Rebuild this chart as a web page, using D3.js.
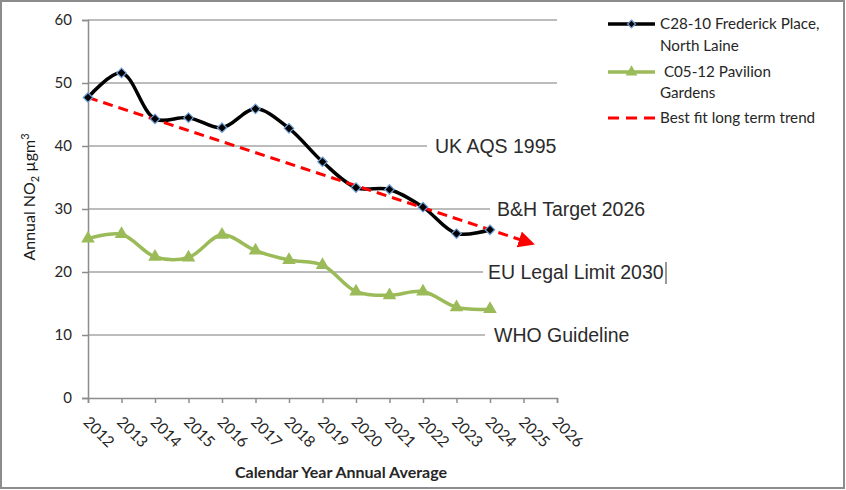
<!DOCTYPE html>
<html>
<head>
<meta charset="utf-8">
<script src="https://cdn.jsdelivr.net/npm/d3@7"></script>
<style>
  html, body { margin: 0; padding: 0; background: #fff; }
  svg { display: block; font-family: Lato, "Noto Sans", sans-serif; }
</style>
</head>
<body>
<div id="chart"></div>
<script>
// Data
const years = [2012, 2013, 2014, 2015, 2016, 2017, 2018, 2019, 2020, 2021, 2022, 2023, 2024];
const fredericksPlace = [47.7, 51.6, 44.3, 44.5, 42.9, 45.9, 42.8, 37.5, 33.4, 33.1, 30.3, 26.1, 26.7];
const pavilionGardens = [25.3, 26.0, 22.4, 22.3, 25.9, 23.4, 21.9, 21.1, 16.9, 16.3, 16.9, 14.4, 14.1];
const trendYears = [2012, 2025.2];
const trendValues = [47.7, 24.6];
const axisYears = d3.range(2012, 2027);
const yTicks = [0, 10, 20, 30, 40, 50, 60];
const refValues = [40, 30, 20, 10];
const refLabels = ["UK AQS 1995", "B&H Target 2026", "EU Legal Limit 2030", "WHO Guideline"];

const width = 846;
const height = 490;
const margin = { top: 20, right: 289, bottom: 92, left: 88 };

const svg = d3.select("#chart")
  .append("svg")
    .attr("width", width)
    .attr("height", height);

// Outer frame
svg.append("rect")
    .attr("x", 1)
    .attr("y", 1)
    .attr("width", 843)
    .attr("height", 487)
    .attr("fill", "white")
    .attr("stroke", "#8c8c8c")
    .attr("stroke-width", 2);

// Scales
const x = d3.scaleLinear()
  .domain([2012, 2026])
  .range([margin.left, width - margin.right]);
const y = d3.scaleLinear()
  .domain([0, 60])
  .range([height - margin.bottom, margin.top]);

// Gridlines (reference ones are cut short by their text boxes)
const refLabelX = [435, 497, 488, 494];
const refGap = [8, 7, 5, 9];
svg.append("g")
    .attr("stroke", "#a6a6a6")
    .attr("stroke-width", 1.3)
  .selectAll("line")
  .data(yTicks.filter(d => d > 0))
  .join("line")
    .attr("x1", x(2012))
    .attr("x2", d => {
      const i = refValues.indexOf(d);
      return i < 0 ? x(2026) : refLabelX[i] - refGap[i];
    })
    .attr("y1", d => y(d))
    .attr("y2", d => y(d));

// Axes
const yAxis = svg.append("g")
    .attr("transform", `translate(${x(2012)},0)`)
    .call(d3.axisLeft(y).tickValues(yTicks).tickSize(6).tickPadding(10));
const xAxis = svg.append("g")
    .attr("transform", `translate(0,${y(0)})`)
    .call(d3.axisBottom(x).tickValues(axisYears).tickFormat(d3.format("d")).tickSize(5));
[yAxis, xAxis].forEach(g => {
  g.select(".domain").attr("stroke", "#8c8c8c").attr("stroke-width", 1.5);
  g.selectAll(".tick line").attr("stroke", "#8c8c8c").attr("stroke-width", 1.5);
  g.selectAll("text")
    .attr("fill", "#262626")
    .style("font-family", "Lato, sans-serif")
    .style("font-size", "15px");
});
xAxis.selectAll("text")
    .attr("y", 0)
    .attr("dy", 0)
    .attr("text-anchor", "start")
    .style("font-size", "15.5px")
    .attr("transform", "translate(-6,25) rotate(45)");

// Axis titles
svg.append("text")
    .attr("x", 341)
    .attr("y", 478)
    .attr("text-anchor", "middle")
    .attr("font-weight", "bold")
    .attr("font-size", "16px")
    .attr("fill", "#262626")
    .text("Calendar Year Annual Average");

const yTitle = svg.append("text")
    .attr("transform", "translate(35,197) rotate(-90)")
    .attr("text-anchor", "middle")
    .attr("font-size", "16px")
    .attr("fill", "#1a1a1a");
yTitle.append("tspan").text("Annual NO");
yTitle.append("tspan").attr("font-size", "11px").attr("dy", 4).text("2");
yTitle.append("tspan").attr("dy", -4).text(" µgm");
yTitle.append("tspan").attr("font-size", "11px").attr("dy", -6).text("3");

// Reference line labels
svg.append("g")
    .attr("font-family", "'Liberation Sans', Arial, sans-serif")
    .attr("font-size", "19.5px")
    .attr("fill", "#2b2b2b")
  .selectAll("text")
  .data(refValues)
  .join("text")
    .attr("x", (d, i) => refLabelX[i])
    .attr("y", d => y(d) + 7)
    .text((d, i) => refLabels[i]);

// Text cursor left after the EU label
svg.append("line")
    .attr("x1", 666)
    .attr("x2", 666)
    .attr("y1", y(20) - 10)
    .attr("y2", y(20) + 12)
    .attr("stroke", "#333")
    .attr("stroke-width", 1);

// Lines
const line = d3.line()
  .x(d => x(d[0]))
  .y(d => y(d[1]))
  .curve(d3.curveCatmullRom);

const greenPts = years.map((d, i) => [d, pavilionGardens[i]]);
const blackPts = years.map((d, i) => [d, fredericksPlace[i]]);
const trendPts = trendYears.map((d, i) => [d, trendValues[i]]);

svg.append("path")
    .datum(greenPts)
    .attr("d", line)
    .attr("fill", "none")
    .attr("stroke", "#9bbb59")
    .attr("stroke-width", 3.5);
svg.append("g")
  .selectAll("path")
  .data(greenPts)
  .join("path")
    .attr("transform", d => `translate(${x(d[0])},${y(d[1])})`)
    .attr("d", d3.symbol(d3.symbolTriangle, 80))
    .attr("fill", "#9bbb59");

svg.append("path")
    .datum(blackPts)
    .attr("d", line)
    .attr("fill", "none")
    .attr("stroke", "black")
    .attr("stroke-width", 3.5);

// Trend with arrow head
svg.append("defs")
  .append("marker")
    .attr("id", "arrow")
    .attr("viewBox", "0 0 10 10")
    .attr("refX", 7)
    .attr("refY", 5)
    .attr("markerWidth", 5.5)
    .attr("markerHeight", 5.5)
    .attr("orient", "auto")
  .append("path")
    .attr("d", "M0,0L10,5L0,10Z")
    .attr("fill", "#ff0000");
svg.append("path")
    .datum(trendPts)
    .attr("d", d3.line().x(d => x(d[0])).y(d => y(d[1])))
    .attr("fill", "none")
    .attr("stroke", "#ff0000")
    .attr("stroke-width", 3)
    .attr("stroke-dasharray", "10 6")
    .attr("marker-end", "url(#arrow)");

svg.append("g")
  .selectAll("path")
  .data(blackPts)
  .join("path")
    .attr("transform", d => `translate(${x(d[0])},${y(d[1])})`)
    .attr("d", d3.symbol(d3.symbolDiamond2, 58))
    .attr("fill", "black")
    .attr("stroke", "#6f9fd8")
    .attr("stroke-width", 1.2);

// Legend
const legend = svg.append("g")
    .attr("font-size", "15.2px")
    .attr("fill", "#262626");
const lx1 = 608, lx2 = 655, ltx = 660;

legend.append("line")
    .attr("x1", lx1).attr("x2", lx2).attr("y1", 24).attr("y2", 24)
    .attr("stroke", "black").attr("stroke-width", 3.5);
legend.append("path")
    .attr("transform", `translate(${(lx1 + lx2) / 2},24)`)
    .attr("d", d3.symbol(d3.symbolDiamond2, 40))
    .attr("fill", "black").attr("stroke", "#6f9fd8").attr("stroke-width", 1.2);
legend.append("text").attr("x", ltx).attr("y", 29).text("C28-10 Frederick Place,");
legend.append("text").attr("x", ltx).attr("y", 51).text("North Laine");

legend.append("line")
    .attr("x1", lx1).attr("x2", lx2).attr("y1", 72).attr("y2", 72)
    .attr("stroke", "#9bbb59").attr("stroke-width", 3.5);
legend.append("path")
    .attr("transform", `translate(${(lx1 + lx2) / 2},72)`)
    .attr("d", d3.symbol(d3.symbolTriangle, 60))
    .attr("fill", "#9bbb59");
legend.append("text").attr("x", ltx).attr("y", 77).text("\u00a0C05-12 Pavilion");
legend.append("text").attr("x", ltx).attr("y", 98).text("Gardens");

legend.append("line")
    .attr("x1", lx1).attr("x2", lx2).attr("y1", 118).attr("y2", 118)
    .attr("stroke", "#ff0000").attr("stroke-width", 3)
    .attr("stroke-dasharray", "11 7");
legend.append("text").attr("x", ltx).attr("y", 123).text("Best fit long term trend");
</script>
</body>
</html>
